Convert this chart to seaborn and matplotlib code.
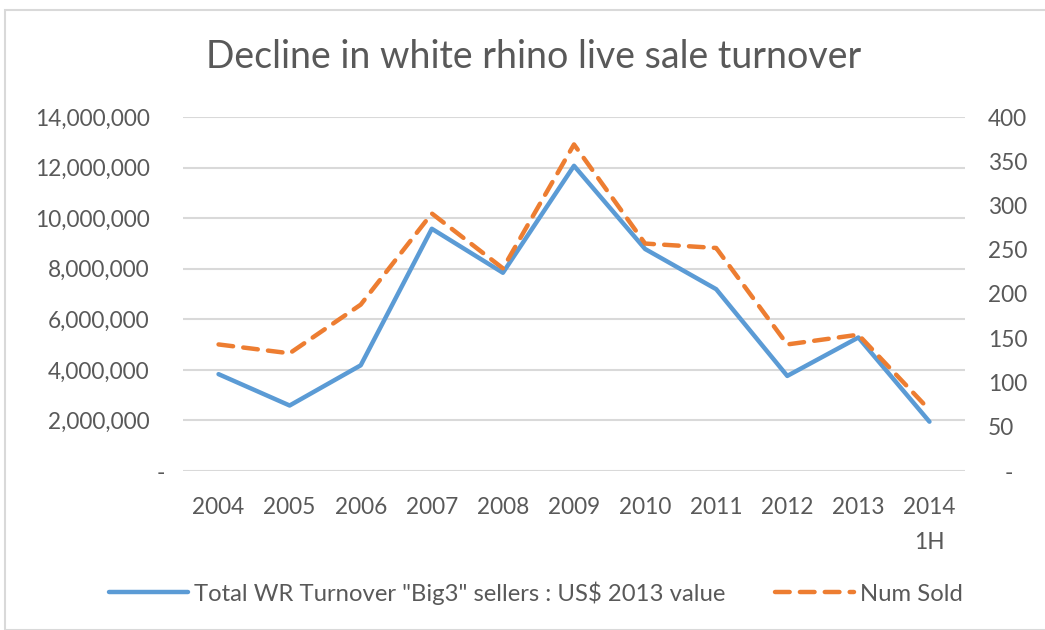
import matplotlib
matplotlib.use("Agg")
import matplotlib.pyplot as plt
import matplotlib.patches as mpatches
import matplotlib.transforms as mtrans
from matplotlib.ticker import FixedLocator, FuncFormatter
import seaborn as sns
import numpy as np

categories = ["2004", "2005", "2006", "2007", "2008", "2009", "2010", "2011", "2012", "2013", "2014\n1H"]
turnover = [3830000, 2590000, 4180000, 9580000, 7840000, 12070000, 8780000, 7190000, 3760000, 5280000, 1950000]
num_sold = [143, 133, 188, 291, 229, 369, 257, 252, 143, 154, 69]
left_ticks = [0, 2000000, 4000000, 6000000, 8000000, 10000000, 12000000, 14000000]
right_ticks = [0, 50, 100, 150, 200, 250, 300, 350, 400]

series1 = 'Total WR Turnover "Big3" sellers : US$ 2013 value'
series2 = "Num Sold"

sns.set_theme(style="white")
plt.rcParams["font.family"] = ["Lato", "DejaVu Sans"]
text_col = "#595959"
blue = "#5B9BD5"
orange = "#ED7D31"
grid_col = "#D9D9D9"
fs = 16.3

fig = plt.figure(figsize=(10.45, 6.3), dpi=100)
ax = fig.add_axes([183/1045, 1-471/630, (965-183)/1045, (471-117)/630])
ax2 = ax.twinx()

x = np.arange(len(categories))
sns.lineplot(x=x, y=turnover, ax=ax, color=blue, linewidth=3.2, solid_capstyle="round", label=series1, legend=False)
sns.lineplot(x=x, y=num_sold, ax=ax2, color=orange, linewidth=3.2, label=series2, legend=False)
l2 = ax2.get_lines()[0]
l2.set_dashes((3.3, 2.3))
l2.set_dash_capstyle("round")

ax.set_xlim(-0.5, len(categories) - 0.5)
ax.set_ylim(0, 14000000)
ax2.set_ylim(0, 400)

ax.yaxis.set_major_locator(FixedLocator(left_ticks))
ax2.yaxis.set_major_locator(FixedLocator(right_ticks))
ax.yaxis.set_major_formatter(FuncFormatter(lambda v, p: "-" if v == 0 else f"{v:,.0f}"))
ax2.yaxis.set_major_formatter(FuncFormatter(lambda v, p: "-" if v == 0 else f"{v:,.0f}"))
ax.set_xticks(x)
ax.set_xticklabels(categories, linespacing=1.78)

ax.grid(axis="y", color=grid_col, linewidth=1.5)
ax.set_axisbelow(True)
for a in (ax, ax2):
    for s in a.spines.values():
        s.set_visible(False)
    a.tick_params(length=0, labelsize=fs, labelcolor=text_col)
ax.tick_params(axis="y", pad=24)
ax2.tick_params(axis="y", pad=16.5)
ax.tick_params(axis="x", pad=19)

# shift the "-" zero labels like accounting format
fig.canvas.draw()
for t in ax.yaxis.get_major_ticks():
    if t.get_loc() == 0:
        t.label1.set_transform(t.label1.get_transform() + mtrans.ScaledTranslation(15/100, 0, fig.dpi_scale_trans))
for t in ax2.yaxis.get_major_ticks():
    if t.get_loc() == 0:
        t.label2.set_transform(t.label2.get_transform() + mtrans.ScaledTranslation(17/100, 0, fig.dpi_scale_trans))

fig.text(534/1045, 1-57/630, "Decline in white rhino live sale turnover", ha="center", va="center",
         fontsize=27, color=text_col)

h1 = ax.get_lines()[0]
leg = fig.legend([h1, l2], [series1, series2], loc="center", bbox_to_anchor=(536/1045, 1-593/630), ncol=2,
                 frameon=False, fontsize=17.2, handlelength=3.3, columnspacing=2.1, handletextpad=0.25,
                 labelcolor=text_col)

fig.patches.append(mpatches.Rectangle((5/1045, 0), 1, 1-10/630, transform=fig.transFigure,
                                      fill=False, edgecolor="#D9D9D9", linewidth=1.5))

fig.savefig("out.png", dpi=100)
